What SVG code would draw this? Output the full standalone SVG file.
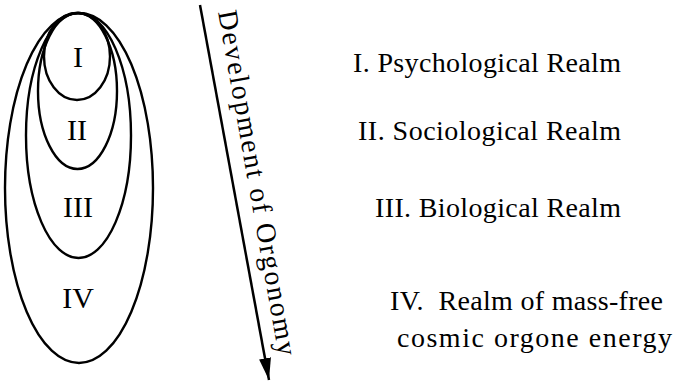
<svg xmlns="http://www.w3.org/2000/svg" width="674" height="385" viewBox="0 0 674 385">
<defs>
<style>
.ring{fill:none;stroke:#000;stroke-width:2.4}
.num{font-family:"Liberation Serif","Times New Roman",serif;font-size:30px;fill:#000;text-anchor:middle}
.lbl{font-family:"Liberation Serif","Times New Roman",serif;font-size:28px;fill:#000}
.axis{font-family:"Liberation Serif","Times New Roman",serif;font-size:28px;fill:#000}
</style>
<marker id="ah" markerUnits="userSpaceOnUse" markerWidth="24" markerHeight="14" refX="22" refY="6" orient="auto">
<path d="M0,0 L22,6 L0,12 z" fill="#000"/>
</marker>
</defs>
<rect width="674" height="385" fill="#fff"/>
<g id="realm-IV"><ellipse class="ring" cx="79" cy="188" rx="74" ry="175"/><text class="num" x="78" y="308">IV</text></g>
<g id="realm-III"><ellipse class="ring" cx="78.5" cy="135.5" rx="52.5" ry="122.5"/><text class="num" x="78" y="217">III</text></g>
<g id="realm-II"><ellipse class="ring" cx="77.5" cy="91" rx="39.5" ry="78"/><text class="num" x="77" y="140">II</text></g>
<g id="realm-I"><ellipse class="ring" cx="77" cy="56.5" rx="33" ry="43.5"/><text class="num" x="78" y="67">I</text></g>
<g id="connectors">
<line x1="200" y1="5" x2="269" y2="380" stroke="#000" stroke-width="2.5" marker-end="url(#ah)"/>
</g>
<g id="axis-label"><text class="axis" x="218" y="12" transform="rotate(80 218 12)" textLength="350" lengthAdjust="spacing">Development of Orgonomy</text></g>
<g id="legend">
<text class="lbl" x="353" y="72" textLength="268" lengthAdjust="spacing">I. Psychological Realm</text>
<text class="lbl" x="358" y="140" textLength="263" lengthAdjust="spacing">II. Sociological Realm</text>
<text class="lbl" x="375" y="217" textLength="246" lengthAdjust="spacing">III. Biological Realm</text>
<text class="lbl" x="390" y="310" textLength="273" lengthAdjust="spacing" xml:space="preserve">IV.  Realm of mass-free</text>
<text class="lbl" x="397" y="347" textLength="275" lengthAdjust="spacing">cosmic orgone energy</text>
</g>
</svg>
